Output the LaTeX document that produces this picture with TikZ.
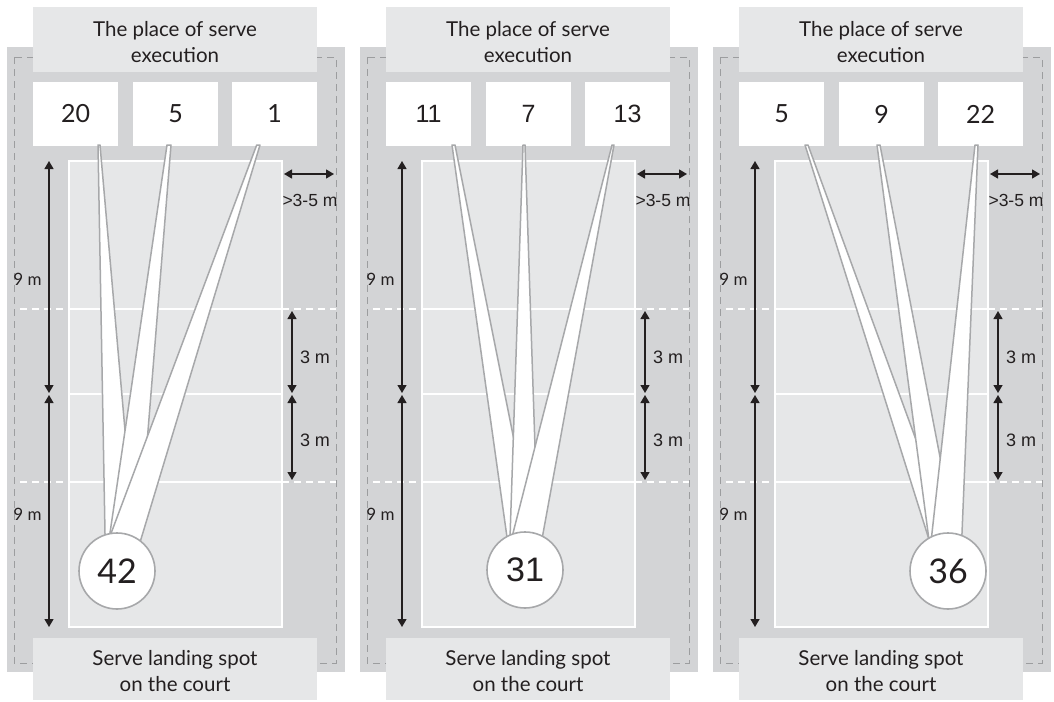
\documentclass[tikz,border=0pt]{standalone}
\usepackage{fontspec}
\setmainfont{Lato}
\newfontfamily\latofont{Lato}
\newfontfamily\arialfont{Liberation Sans}
\usetikzlibrary{arrows.meta}

\definecolor{outergray}{HTML}{D3D4D6}
\definecolor{boxgray}{HTML}{E6E7E8}
\definecolor{wedgegray}{HTML}{A7A8AA}
\definecolor{dashgray}{HTML}{9C9D9F}
\definecolor{ink}{HTML}{231F20}

\tikzset{
  labelbox/.style={fill=boxgray, minimum width=284pt, minimum height=64pt, inner sep=0pt,
    align=center, text=ink, text height=46pt, font=\latofont\fontsize{20.5}{26}\selectfont},
  numbox/.style={fill=white, minimum width=85pt, minimum height=64pt, inner sep=0pt, text=ink},
  spotcircle/.style={circle, fill=white, draw=wedgegray, line width=1.6pt, minimum size=76pt,
    inner sep=0pt, text=ink},
  wedge/.style={fill=white, draw=wedgegray, line width=1.5pt, line join=round},
  dimarrow/.style={{Triangle[length=8pt,width=9pt]}-{Triangle[length=8pt,width=9pt]}, line width=1.3pt, ink},
  dimlabel/.style={inner sep=0pt, text=ink},
  courtline/.style={white, line width=2pt},
  courtdash/.style={white, line width=2pt, dash pattern=on 7pt off 5pt}
}

\begin{document}
\begin{tikzpicture}[x=1pt, y=-1pt]
\useasboundingbox (0,0) rectangle (1054,701);

\foreach \p/\dx in {1/0, 2/353, 3/706} {
  \begin{scope}[xshift=\dx pt]
    \fill[outergray] (7,47) rectangle (345,672);
    \draw[dashgray, line width=0.8pt, dash pattern=on 7pt off 5pt] (14,57) rectangle (336,663);
    \draw[courtline, fill=boxgray] (69,161) rectangle (282,627);
    \draw[courtline] (69,394) -- (282,394);
    \foreach \y in {309,482} {
      \draw[courtline] (69,\y) -- (282,\y);
      \draw[courtdash] (20,\y) -- (69,\y);
      \draw[courtdash] (282,\y) -- (336,\y);
    }
    \node[labelbox] (place\p) at (175,39.5) {The place of serve\\execution};
    \node[labelbox, minimum height=62pt] (spot\p) at (175,669) {Serve landing spot\\on the court};

    \coordinate (backA\p) at (49,161);
    \coordinate (backB\p) at (49,393);
    \coordinate (backC\p) at (49,395);
    \coordinate (backD\p) at (49,627);
    \draw[dimarrow] (backA\p) -- (backB\p);
    \draw[dimarrow] (backC\p) -- (backD\p);
    \node[dimlabel, font=\latofont\fontsize{17}{17}\selectfont] (nineA\p) at (27.5,279) {9 m};
    \node[dimlabel, font=\latofont\fontsize{17}{17}\selectfont] (nineB\p) at (27.5,514) {9 m};

    \coordinate (sideA\p) at (292,311);
    \coordinate (sideB\p) at (292,393);
    \coordinate (sideC\p) at (292,395);
    \coordinate (sideD\p) at (292,480);
    \draw[dimarrow] (sideA\p) -- (sideB\p);
    \draw[dimarrow] (sideC\p) -- (sideD\p);
    \node[dimlabel, font=\arialfont\fontsize{18}{18}\selectfont] (threeA\p) at (315,357) {3 m};
    \node[dimlabel, font=\arialfont\fontsize{18}{18}\selectfont] (threeB\p) at (315,440) {3 m};

    \coordinate (runA\p) at (284,174);
    \coordinate (runB\p) at (334,174);
    \draw[dimarrow] (runA\p) -- (runB\p);
    \node[dimlabel, font=\arialfont\fontsize{17.5}{17.5}\selectfont] (run\p) at (310,200) {>3-5 m};
  \end{scope}
}

% panel 1
\node[numbox, font=\latofont\fontsize{25}{25}\selectfont] (zoneA1) at (75.5,114) {20};
\node[numbox, font=\latofont\fontsize{25}{25}\selectfont] (zoneB1) at (175.5,114) {5};
\node[numbox, font=\latofont\fontsize{25}{25}\selectfont] (zoneC1) at (274.5,114) {1};
\filldraw[wedge] (98,145) -- (100,145) -- (135.5,550) -- (105.3,550) -- cycle;
\filldraw[wedge] (167,145) -- (171,145) -- (138.4,550) -- (107.5,550) -- cycle;
\filldraw[wedge] (256.7,145) -- (260,145) -- (137.7,550) -- (104.8,550) -- cycle;
\node[spotcircle, font=\latofont\fontsize{34}{34}\selectfont] (land1) at (117,571) {42};

% panel 2
\begin{scope}[xshift=353pt]
  \node[numbox, font=\arialfont\fontsize{25}{25}\selectfont] (zoneA2) at (75.5,114) {11};
  \node[numbox, font=\arialfont\fontsize{25}{25}\selectfont] (zoneB2) at (175.5,114) {7};
  \node[numbox, font=\arialfont\fontsize{25}{25}\selectfont] (zoneC2) at (274.5,114) {13};
  \filldraw[wedge] (99,145) -- (102,145) -- (183,550) -- (155.8,550) -- cycle;
  \filldraw[wedge] (170,145) -- (172,145) -- (185.4,550) -- (156.6,550) -- cycle;
  \filldraw[wedge] (259,145) -- (261,145) -- (187,550) -- (155.7,550) -- cycle;
  \node[spotcircle, font=\arialfont\fontsize{34}{34}\selectfont] (land2) at (172,570) {31};
\end{scope}

% panel 3
\begin{scope}[xshift=706pt]
  \node[numbox, font=\latofont\fontsize{25}{25}\selectfont] (zoneA3) at (75.5,114) {5};
  \node[numbox, font=\latofont\fontsize{25}{25}\selectfont] (zoneB3) at (175.5,114) {9};
  \node[numbox, font=\latofont\fontsize{25}{25}\selectfont] (zoneC3) at (274.5,114) {22};
  \filldraw[wedge] (99,145) -- (102,145) -- (250.4,550) -- (226.3,550) -- cycle;
  \filldraw[wedge] (171,145) -- (174,145) -- (251.9,550) -- (224.3,550) -- cycle;
  \filldraw[wedge] (269,145) -- (272,145) -- (255.3,550) -- (224.1,550) -- cycle;
  \node[spotcircle, font=\latofont\fontsize{34}{34}\selectfont] (land3) at (242,571) {36};
\end{scope}
\end{tikzpicture}
\end{document}
